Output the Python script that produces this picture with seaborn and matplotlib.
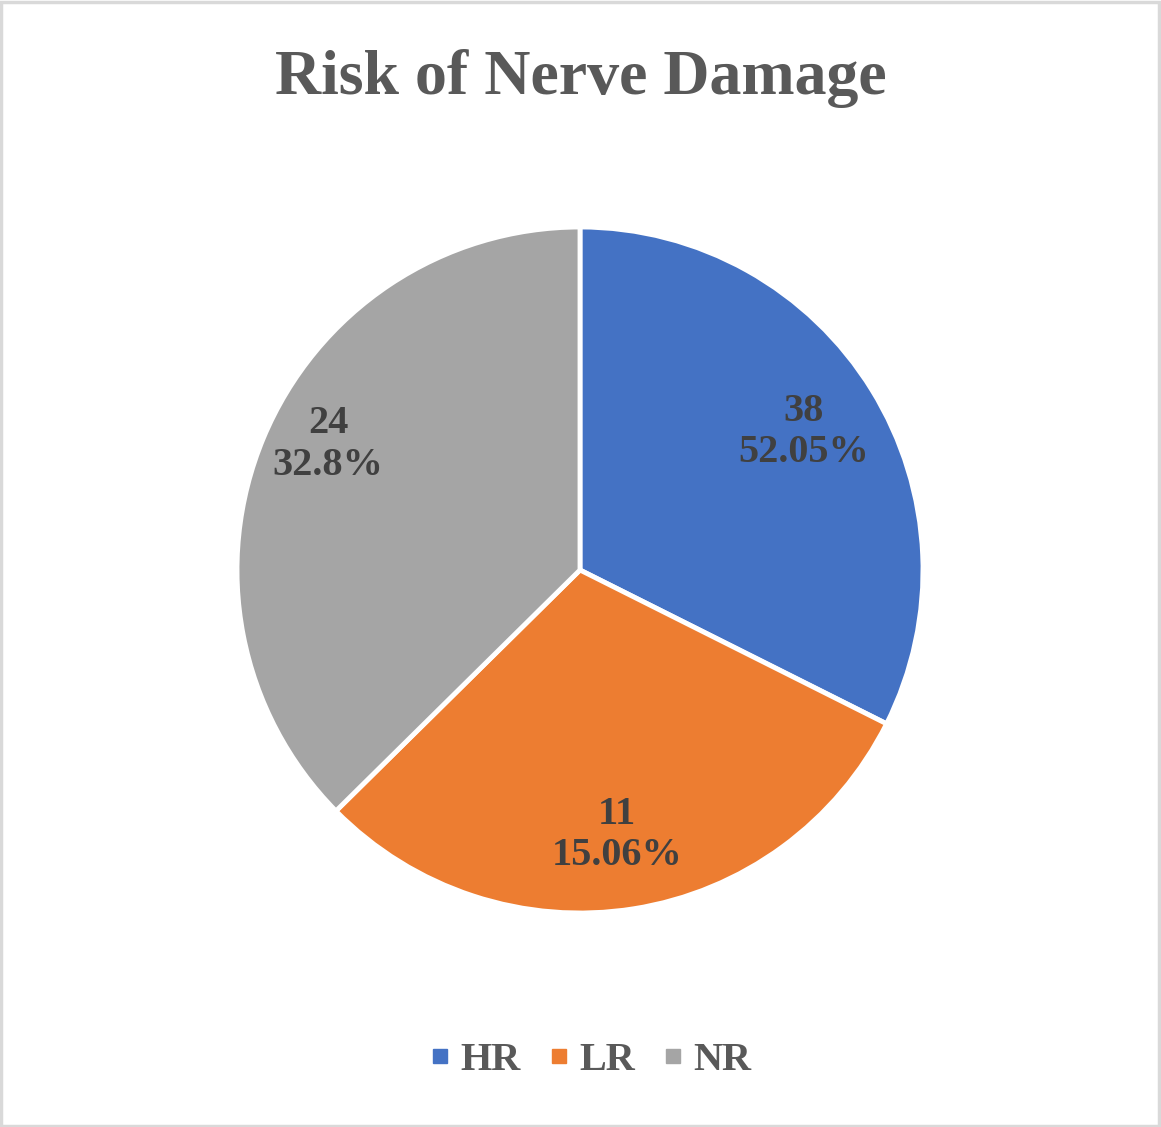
import numpy as np
import matplotlib
matplotlib.use("Agg")
import matplotlib.pyplot as plt
from matplotlib.lines import Line2D
from matplotlib.patches import Rectangle
import seaborn as sns

# ---- data ----
categories = ["HR", "LR", "NR"]
counts = [38, 11, 24]
percent_labels = ["52.05%", "15.06%", "32.8%"]
# slice sizes as drawn in the reference (share of the circle, %)
slice_sizes = [32.4, 30.2, 37.4]

colors = ["#4472C4", "#ED7D31", "#A5A5A5"]
label_dist = [0.765, 0.78, 0.82]
label_angle_shift = [0.0, -1.0, -3.8]

sns.set_theme(style="white")
plt.rcParams["font.family"] = ["Liberation Serif", "DejaVu Serif"]

W, H = 1161, 1127
fig = plt.figure(figsize=(W / 100, H / 100), dpi=100)
fig.patch.set_facecolor("white")

cx, cy, r = 580, H - 570, 343
ax = fig.add_axes([(cx - r) / W, (cy - r) / H, 2 * r / W, 2 * r / H])
wedges, _ = ax.pie(slice_sizes, colors=colors, startangle=90, counterclock=False,
                   radius=1.0,
                   wedgeprops=dict(edgecolor="white", linewidth=3.5))
ax.set_xlim(-1, 1)
ax.set_ylim(-1, 1)
ax.set_aspect("equal")
ax.axis("off")

for w, c, p, d, s in zip(wedges, counts, percent_labels, label_dist, label_angle_shift):
    ang = np.deg2rad((w.theta1 + w.theta2) / 2 + s)
    ax.text(d * np.cos(ang), d * np.sin(ang), f"{c}\n{p}", ha="center", va="center",
            fontsize=29, fontweight="bold", color="#404040", linespacing=1.15)

fig.text(0.5, 1 - 79 / H, "Risk of Nerve Damage", ha="center", va="center",
         fontsize=46, fontweight="bold", color="#595959")

handles = [Line2D([0], [0], marker="s", linestyle="none", markersize=10,
                  markerfacecolor=c, markeredgecolor=c) for c in colors]
leg = fig.legend(handles, categories, loc="center", bbox_to_anchor=(0.508, 1 - 1060 / H),
                 ncol=3, frameon=False, handlelength=0.6, handletextpad=0.2,
                 columnspacing=0.65,
                 prop=dict(family="Liberation Serif", weight="bold", size=29))
for t in leg.get_texts():
    t.set_color("#595959")

fig.patches.append(Rectangle((0.001, 0.001), 0.997, 0.997, transform=fig.transFigure,
                             fill=False, edgecolor="#D9D9D9", linewidth=2.5))

fig.savefig("out.png", dpi=100, facecolor="white")
